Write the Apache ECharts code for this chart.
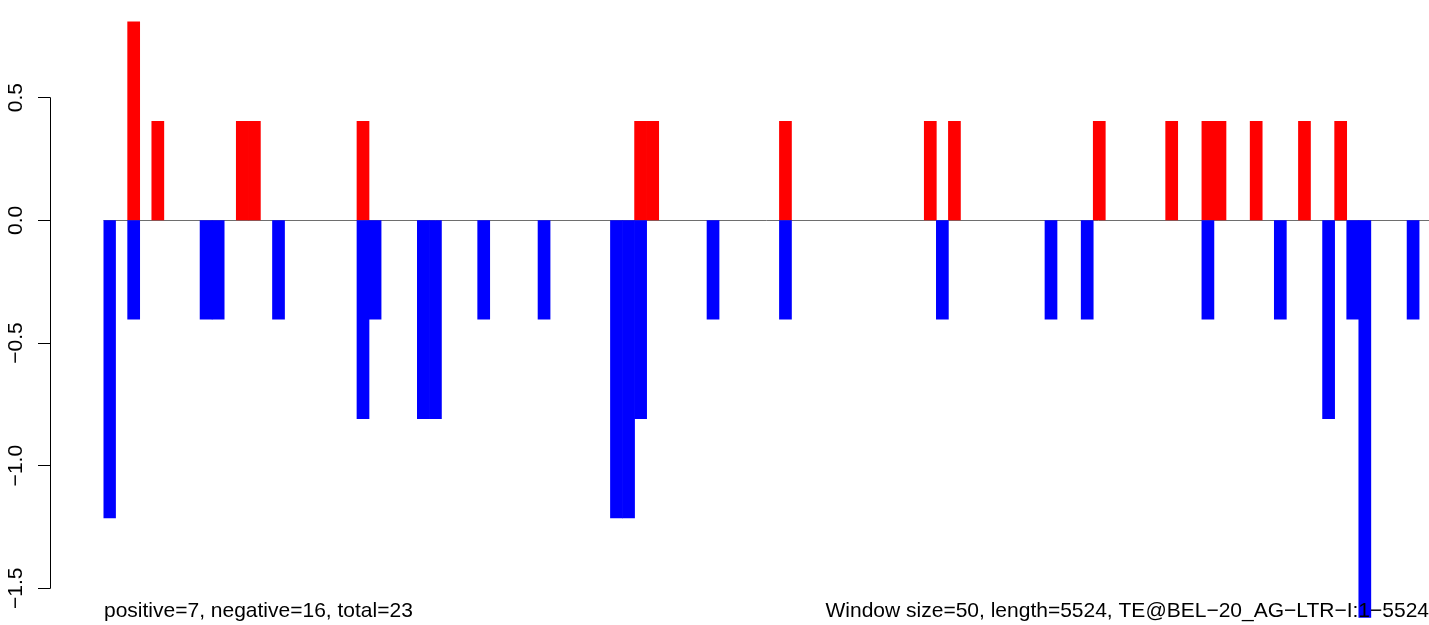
<!DOCTYPE html>
<html>
<head>
<meta charset="utf-8">
<script src="https://cdn.jsdelivr.net/npm/echarts@6/dist/echarts.min.js"></script>
<style>
html,body{margin:0;padding:0;background:#fff;}
#chart{width:1429px;height:625px;}
</style>
</head>
<body>
<div id="chart"></div>
<script>
// ---- data ----
const windowSize = 50;
const seqLength = 5524;
const windowCount = 111; // ceil(5524 / 50)

// positive hits: window index -> value
const posWindows = [2, 4, 11, 12, 21, 44, 45, 56, 68, 70, 82, 88, 91, 92, 95, 99, 102];
const posValues  = [0.81, 0.405, 0.405, 0.405, 0.405, 0.405, 0.405, 0.405, 0.405, 0.405, 0.405, 0.405, 0.405, 0.405, 0.405, 0.405, 0.405];

// negative hits: window index -> value
const negWindows = [0, 2, 8, 9, 14, 21, 22, 26, 27, 31, 36, 42, 43, 44, 50, 56, 69, 78, 81, 91, 97, 101, 103, 104, 108];
const negValues  = [-1.215, -0.405, -0.405, -0.405, -0.405, -0.81, -0.405, -0.81, -0.81, -0.405, -0.405, -1.215, -1.215, -0.81, -0.405, -0.405, -0.405, -0.405, -0.405, -0.405, -0.405, -0.81, -0.405, -1.62, -0.405];

const yTicks = [-1.5, -1.0, -0.5, 0.0, 0.5];

const leftText = 'positive=7, negative=16, total=23';
const rightText = 'Window size=' + windowSize + ', length=' + seqLength + ', TE@BEL\u221220_AG\u2212LTR\u2212I:1\u2212' + seqLength;

// ---- build library tables ----
const categories = [];
for (let i = 0; i < windowCount; i++) categories.push(String(1 + i * windowSize));
const posData = new Array(windowCount).fill('-');
posWindows.forEach((w, k) => { posData[w] = posValues[k]; });
const negData = new Array(windowCount).fill('-');
negWindows.forEach((w, k) => { negData[w] = negValues[k]; });

const FONT = "'Liberation Sans', Arial, Helvetica, sans-serif";
const chart = echarts.init(document.getElementById('chart'), null, {renderer: 'canvas'});

const option = {
  animation: false,
  backgroundColor: '#ffffff',
  title: [
    {text: leftText, left: 104, top: 601, padding: 0,
     textStyle: {fontFamily: FONT, fontSize: 21, fontWeight: 'normal', color: '#000'}},
    {text: rightText, right: 0, top: 601, padding: 0,
     textStyle: {fontFamily: FONT, fontSize: 21, fontWeight: 'normal', color: '#000'}}
  ],
  grid: [
    {left: 103.5, top: 0, width: 12.07 * windowCount, height: 625, containLabel: false, outerBoundsMode: 'none'},
    {left: 50, top: 97.7, width: 20, height: 490.6, containLabel: false, outerBoundsMode: 'none'}
  ],
  xAxis: [
    {type: 'category', gridIndex: 0, data: categories, show: false, boundaryGap: true},
    {type: 'value', gridIndex: 1, show: false, min: 0, max: 1}
  ],
  yAxis: [
    {type: 'value', gridIndex: 0, show: false, min: -1.650, max: 0.898, splitLine: {show: false}},
    {type: 'value', gridIndex: 1, min: yTicks[0], max: yTicks[yTicks.length - 1], interval: 0.5,
     position: 'left',
     axisLine: {show: true, lineStyle: {color: '#000', width: 1}},
     axisTick: {show: true, length: 12, lineStyle: {color: '#000', width: 1}},
     splitLine: {show: false},
     axisLabel: {show: true, rotate: 90, margin: 23, fontSize: 21, fontFamily: FONT, color: '#000',
       formatter: v => v.toFixed(1).replace('-', '\u2212')}
    }
  ],
  series: [
    {
      name: 'positive', type: 'bar', xAxisIndex: 0, yAxisIndex: 0,
      data: posData, barGap: '-100%', barWidth: 12.7,
      itemStyle: {color: '#ff0000'}, z: 3,
      markLine: {
        silent: true, symbol: 'none', z: 1,
        label: {show: false},
        lineStyle: {color: '#6e6e6e', width: 1, type: 'solid'},
        data: [{yAxis: 0}]
      }
    },
    {
      name: 'negative', type: 'bar', xAxisIndex: 0, yAxisIndex: 0,
      data: negData, barGap: '-100%', barWidth: 12.7,
      itemStyle: {color: '#0000ff'}, z: 3
    }
  ]
};
chart.setOption(option);
</script>
</body>
</html>
